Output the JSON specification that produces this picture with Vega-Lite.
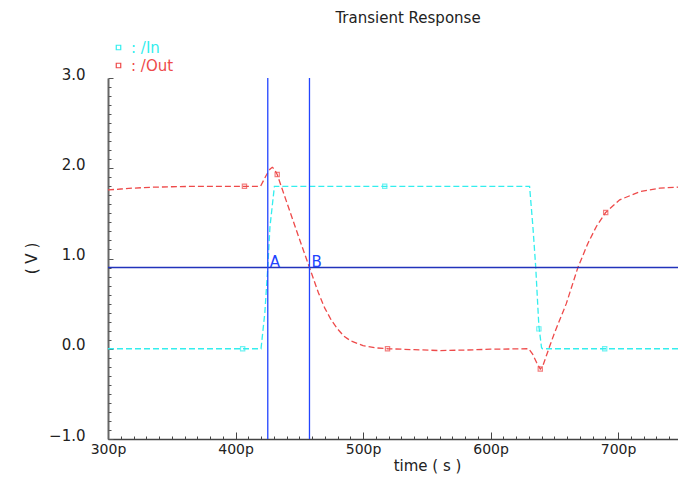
{
  "$schema": "https://vega.github.io/schema/vega-lite/v6.json",
  "autosize": "none",
  "width": 570,
  "height": 361,
  "padding": {"left": 108, "top": 78, "right": 0, "bottom": 38},
  "background": "white",
  "config": {"view": {"stroke": null}, "font": "DejaVu Sans"},
  "title": {"text": "Transient Response", "fontSize": 15, "font": "DejaVu Sans", "fontWeight": "normal", "color": "#222", "anchor": "middle", "frame": "group", "offset": 14, "dx": 15},
  "resolve": {"axis": {"x": "independent", "y": "independent"}},
  "datasets": {
    "curves": [
      {"series": "/In", "t": 300, "v": 0}, {"series": "/In", "t": 405.6, "v": 0}, {"series": "/In", "t": 420, "v": 0},
      {"series": "/In", "t": 423, "v": 0.4}, {"series": "/In", "t": 425.3, "v": 0.9}, {"series": "/In", "t": 427, "v": 1.35},
      {"series": "/In", "t": 430.5, "v": 1.8}, {"series": "/In", "t": 517, "v": 1.8}, {"series": "/In", "t": 630.6, "v": 1.8},
      {"series": "/In", "t": 633.2, "v": 1.355}, {"series": "/In", "t": 635.4, "v": 0.91}, {"series": "/In", "t": 637.9, "v": 0.25},
      {"series": "/In", "t": 640, "v": 0.01}, {"series": "/In", "t": 641, "v": 0}, {"series": "/In", "t": 689.5, "v": 0},
      {"series": "/In", "t": 747, "v": 0},
      {"series": "/Out", "t": 300, "v": 1.76}, {"series": "/Out", "t": 310, "v": 1.77}, {"series": "/Out", "t": 320, "v": 1.78},
      {"series": "/Out", "t": 335, "v": 1.79}, {"series": "/Out", "t": 350, "v": 1.795}, {"series": "/Out", "t": 370, "v": 1.8},
      {"series": "/Out", "t": 407, "v": 1.8}, {"series": "/Out", "t": 419.6, "v": 1.8}, {"series": "/Out", "t": 424, "v": 1.92},
      {"series": "/Out", "t": 427, "v": 1.99}, {"series": "/Out", "t": 428.8, "v": 2.01}, {"series": "/Out", "t": 430.5, "v": 1.99},
      {"series": "/Out", "t": 432.7, "v": 1.93}, {"series": "/Out", "t": 440, "v": 1.63}, {"series": "/Out", "t": 450, "v": 1.22},
      {"series": "/Out", "t": 458, "v": 0.9}, {"series": "/Out", "t": 465, "v": 0.62}, {"series": "/Out", "t": 470, "v": 0.45},
      {"series": "/Out", "t": 475, "v": 0.32}, {"series": "/Out", "t": 480, "v": 0.22}, {"series": "/Out", "t": 485, "v": 0.14},
      {"series": "/Out", "t": 490, "v": 0.09}, {"series": "/Out", "t": 500, "v": 0.035}, {"series": "/Out", "t": 510, "v": 0.01},
      {"series": "/Out", "t": 519.2, "v": 0}, {"series": "/Out", "t": 540, "v": -0.01}, {"series": "/Out", "t": 560, "v": -0.02},
      {"series": "/Out", "t": 580, "v": -0.015}, {"series": "/Out", "t": 600, "v": -0.005}, {"series": "/Out", "t": 630, "v": 0},
      {"series": "/Out", "t": 633, "v": -0.06}, {"series": "/Out", "t": 636, "v": -0.15}, {"series": "/Out", "t": 639, "v": -0.225},
      {"series": "/Out", "t": 641, "v": -0.19}, {"series": "/Out", "t": 646.3, "v": 0.025}, {"series": "/Out", "t": 650, "v": 0.17},
      {"series": "/Out", "t": 659.4, "v": 0.5}, {"series": "/Out", "t": 668.5, "v": 0.9}, {"series": "/Out", "t": 676.4, "v": 1.17},
      {"series": "/Out", "t": 683, "v": 1.355}, {"series": "/Out", "t": 690.3, "v": 1.51}, {"series": "/Out", "t": 701.3, "v": 1.65},
      {"series": "/Out", "t": 717, "v": 1.74}, {"series": "/Out", "t": 732.7, "v": 1.78}, {"series": "/Out", "t": 747, "v": 1.79}
    ],
    "markers": [
      {"series": "/In", "t": 405.6, "v": 0}, {"series": "/In", "t": 517, "v": 1.8}, {"series": "/In", "t": 637.9, "v": 0.22}, {"series": "/In", "t": 689.5, "v": 0},
      {"series": "/Out", "t": 407, "v": 1.8}, {"series": "/Out", "t": 432.7, "v": 1.93}, {"series": "/Out", "t": 519.2, "v": 0}, {"series": "/Out", "t": 639, "v": -0.225}, {"series": "/Out", "t": 690.3, "v": 1.51}
    ],
    "cursors": [
      {"cursor": "A", "t": 425.3, "v": 0.9},
      {"cursor": "B", "t": 458, "v": 0.9}
    ]
  },
  "layer": [
    {
      "data": {"name": "curves"},
      "mark": {"type": "line", "strokeDash": [6, 3], "strokeWidth": 1.3},
      "encoding": {
        "x": {"field": "t", "type": "quantitative",
          "scale": {"domain": [300, 747], "nice": false, "zero": false},
          "axis": {
            "orient": "bottom",
            "title": "time ( s )",
            "values": [300, 400, 500, 600, 700],
            "labelExpr": "datum.value + 'p'",
            "tickSize": -7, "labelPadding": 10, "labelFontSize": 14, "labelFont": "DejaVu Sans", "labelColor": "#222",
            "labelFlush": false, "labelOverlap": false, "labelBound": false,
            "domainColor": "#444", "domainWidth": 1.5, "tickColor": "#444", "tickWidth": 1, "grid": false,
            "titleFontSize": 15, "titleFont": "DejaVu Sans", "titleFontWeight": "normal", "titleColor": "#222",
            "titleX": 319, "titleY": 31, "titleBaseline": "alphabetic", "titleAlign": "center"
          }
        },
        "y": {"field": "v", "type": "quantitative",
          "scale": {"domain": [-1, 3], "nice": false, "zero": false},
          "axis": {
            "orient": "left",
            "title": "( V )",
            "values": [-1, 0, 1, 2, 3],
            "format": ".1f",
            "tickSize": -5, "labelPadding": 28, "labelOffset": -4, "labelFontSize": 15, "labelFont": "DejaVu Sans", "labelColor": "#222",
            "labelFlush": false, "labelOverlap": false, "labelBound": false,
            "domainColor": "#666", "domainWidth": 2, "tickColor": "#555", "tickWidth": 1, "grid": false,
            "titleFontSize": 15, "titleFont": "DejaVu Sans", "titleFontWeight": "normal", "titleColor": "#222",
            "titleX": -77, "titleY": 180, "titleAngle": 270, "titleBaseline": "middle", "titleAlign": "center"
          }
        },
        "color": {"field": "series", "type": "nominal",
          "scale": {"domain": ["/In", "/Out"], "range": ["#33eeee", "#ee4a4a"]},
          "legend": {
            "title": null, "orient": "none", "legendX": 3, "legendY": -38, "padding": 0,
            "symbolType": "square", "symbolSize": 20, "symbolFillColor": "transparent", "symbolStrokeWidth": 1.2, "symbolDash": [],
            "labelFontSize": 15, "labelFont": "DejaVu Sans", "labelOffset": 5, "rowPadding": 2,
            "labelExpr": "': ' + datum.label",
            "encode": {"labels": {"update": {"fill": {"signal": "datum.value === '/In' ? '#33eeee' : '#ee4a4a'"}}}}
          }
        }
      }
    },
    {
      "data": {"name": "markers"},
      "mark": {"type": "point", "shape": "square", "size": 18, "filled": false, "strokeWidth": 1.2},
      "encoding": {
        "x": {"field": "t", "type": "quantitative",
          "axis": {
            "orient": "bottom", "title": null, "labels": false, "domain": false, "grid": false,
            "values": [310,320,330,340,350,360,370,380,390,410,420,430,440,450,460,470,480,490,510,520,530,540,550,560,570,580,590,610,620,630,640,650,660,670,680,690,710,720,730,740],
            "tickSize": -3, "tickColor": "#444", "tickWidth": 1
          }
        },
        "y": {"field": "v", "type": "quantitative",
          "axis": {
            "orient": "left", "title": null, "labels": false, "domain": false, "grid": false,
            "values": [-0.9,-0.8,-0.7,-0.6,-0.5,-0.4,-0.3,-0.2,-0.1,0.1,0.2,0.3,0.4,0.5,0.6,0.7,0.8,0.9,1.1,1.2,1.3,1.4,1.5,1.6,1.7,1.8,1.9,2.1,2.2,2.3,2.4,2.5,2.6,2.7,2.8,2.9],
            "tickSize": -3, "tickColor": "#555", "tickWidth": 1
          }
        },
        "color": {"field": "series", "type": "nominal"}
      }
    },
    {
      "data": {"values": [{"v": 0.9}]},
      "mark": {"type": "rule", "color": "#2233bb", "strokeWidth": 1.4},
      "encoding": {"y": {"field": "v", "type": "quantitative", "axis": null}}
    },
    {
      "data": {"name": "cursors"},
      "mark": {"type": "rule", "color": "#2244ff", "strokeWidth": 1.3},
      "encoding": {"x": {"field": "t", "type": "quantitative", "axis": null}}
    },
    {
      "data": {"name": "cursors"},
      "mark": {"type": "text", "color": "#2244ff", "fontSize": 15, "font": "DejaVu Sans", "align": "left", "baseline": "alphabetic", "dx": 2, "dy": -1},
      "encoding": {
        "x": {"field": "t", "type": "quantitative", "axis": null},
        "y": {"field": "v", "type": "quantitative", "axis": null},
        "text": {"field": "cursor", "type": "nominal"}
      }
    }
  ]
}
